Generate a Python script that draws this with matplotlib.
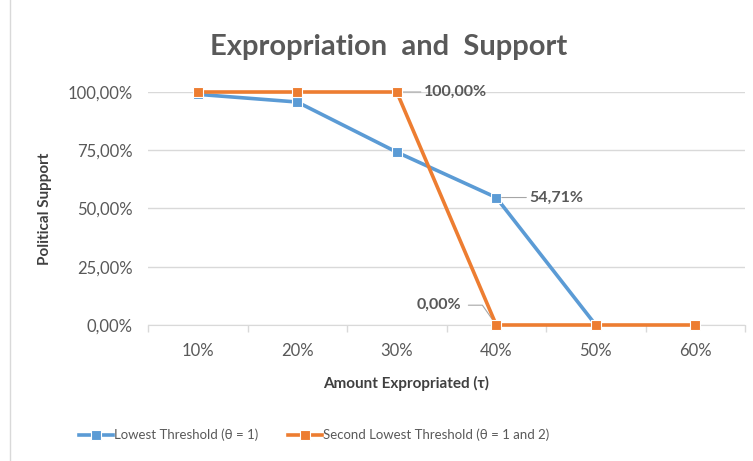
import matplotlib.pyplot as plt
from matplotlib.lines import Line2D

categories = ['10%', '20%', '30%', '40%', '50%', '60%']
lowest = [0.99, 0.957, 0.742, 0.5471, 0.0, 0.0]
second_lowest = [1.0, 1.0, 1.0, 0.0, 0.0, 0.0]
y_ticks = [0, 0.25, 0.5, 0.75, 1.0]
y_labels = ['0,00%', '25,00%', '50,00%', '75,00%', '100,00%']

blue = '#5B9BD5'
orange = '#ED7D31'
grey = '#595959'

plt.rcParams['font.family'] = ['Lato', 'DejaVu Sans']

fig = plt.figure(figsize=(7.53, 4.61), dpi=100)
ax = fig.add_axes([148 / 753, 1 - 325 / 461, 597 / 753, 233 / 461])

x = list(range(len(categories)))
ax.plot(x[:5], lowest[:5], color=blue, lw=2.6, marker='s', ms=7,
        mfc=blue, mec='white', mew=0.8, zorder=3, clip_on=False)
ax.plot(x, second_lowest, color=orange, lw=2.6, marker='s', ms=7,
        mfc=orange, mec='white', mew=0.8, zorder=4, clip_on=False)

ax.set_xlim(-0.5, 5.5)
ax.set_ylim(0, 1)
ax.set_yticks(y_ticks)
ax.set_yticklabels(y_labels, color=grey, fontsize=12)
ax.set_xticks(x)
ax.set_xticklabels(categories, color=grey, fontsize=12)
ax.set_xticks([i + 0.5 for i in range(-1, 6)], minor=True)
ax.tick_params(axis='y', length=0, pad=11)
ax.tick_params(axis='x', which='major', length=0, pad=13)
ax.tick_params(axis='x', which='minor', length=5, color='#d9d9d9', width=1)
ax.grid(axis='y', color='#d9d9d9', lw=1)
ax.set_axisbelow(True)
for s in ['top', 'right', 'left']:
    ax.spines[s].set_visible(False)
ax.spines['bottom'].set_color('#d9d9d9')

# data labels with leader lines
lbl = dict(fontsize=11.5, fontweight='bold', color=grey, va='center')
ax.annotate('100,00%', xy=(2, 1.0), xytext=(2.27, 1.0), **lbl,
            arrowprops=dict(arrowstyle='-', color='#a6a6a6', lw=0.8, shrinkA=0, shrinkB=4))
ax.annotate('54,71%', xy=(3, lowest[3]), xytext=(3.33, lowest[3]), **lbl,
            arrowprops=dict(arrowstyle='-', color='#a6a6a6', lw=0.8, shrinkA=0, shrinkB=4))
ax.annotate('0,00%', xy=(3, 0.0), xytext=(2.65, 0.085), ha='right', **lbl,
            arrowprops=dict(arrowstyle='-', color='#a6a6a6', lw=0.8, shrinkA=3, shrinkB=3,
                            connectionstyle='angle,angleA=0,angleB=125,rad=0'))

ax.set_ylabel('Political Support', fontsize=11, fontweight='bold', color='#404040', labelpad=11)
ax.set_xlabel('Amount Expropriated (τ)', fontsize=11, fontweight='bold', color='#404040')
ax.xaxis.set_label_coords((406 - 148) / 597, -(376 - 325) / 233)
fig.text(0.516, 1 - 47 / 461, 'Expropriation  and  Support', ha='center', va='center',
         fontsize=21, fontweight='bold', color=grey)

handles = [
    Line2D([], [], color=blue, lw=2.6, marker='s', ms=7, mfc=blue, mec='white', mew=0.8),
    Line2D([], [], color=orange, lw=2.6, marker='s', ms=7, mfc=orange, mec='white', mew=0.8),
]
fig.legend(handles, ['Lowest Threshold (θ = 1)', 'Second Lowest Threshold (θ = 1 and 2)'],
           loc='center', bbox_to_anchor=(314 / 753, 1 - 435 / 461), ncol=2, frameon=False,
           fontsize=9.5, labelcolor=grey, handlelength=2.6, handletextpad=0.1,
           columnspacing=2.2)

fig.add_artist(Line2D([10 / 753, 10 / 753], [0, 1], color='#d9d9d9', lw=1))

fig.savefig('out.png', dpi=100)
